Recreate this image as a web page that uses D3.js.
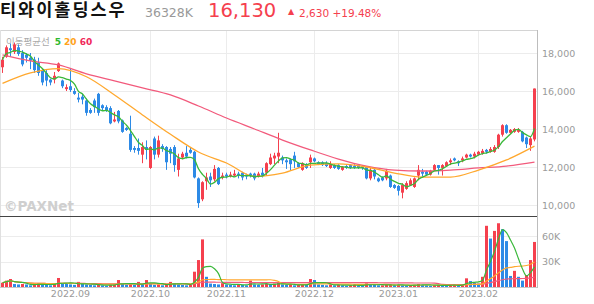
<!DOCTYPE html>
<html>
<head>
<meta charset="utf-8">
<script src="https://cdn.jsdelivr.net/npm/d3@7"></script>
<style>
body { margin: 0; background: #fff; }
svg { display: block; font-family: "DejaVu Sans", sans-serif; }
</style>
</head>
<body>
<div id="chart"></div>
<script>

// trading calendar (KRX holidays inside the range)
var firstDay = "2022-08-08";
var lastDay  = "2023-02-21";
var holidays = ["2022-08-15","2022-09-09","2022-09-12","2022-10-03","2022-10-10","2022-12-30","2023-01-23","2023-01-24"];

var open  = [17250,17800,18250,18050,18300,18000,17900,17750,17650,17500,17100,16950,16600,16600,17050,16550,16100,16250,16000,15650,
             15700,15500,15000,15500,15850,15250,15150,15100,14400,14950,14450,14050,13750,13000,13000,12650,13050,11950,13500,12650,
             13100,13050,12950,13050,11850,12500,12750,12900,12800,11400,10300,11250,11500,11350,11950,11450,11600,11500,11550,11650,
             11700,11600,11650,11650,11500,11700,11700,12150,12450,12550,12500,12350,12400,12600,12200,11850,12150,12250,12450,12250,
             12250,12200,11950,12100,12100,11850,12050,12100,12050,12100,12050,12000,11400,11850,11400,11450,11400,11550,11050,11000,
             10650,10850,11050,10950,11550,11750,11750,11600,11850,12100,11950,12050,12250,12450,12300,12350,12500,12650,12550,12650,
             12700,12900,12800,12800,13050,13700,14200,13800,13850,13850,13850,13550,13150,13450];
var high  = [17800,18400,18500,18550,18450,18150,18000,18000,17800,17750,17150,17100,16650,17000,17500,16600,16350,17200,16150,15900,
             15850,15600,15100,15600,15900,15300,15250,15200,14900,15000,14500,14100,14700,13100,13500,13300,13400,13100,13600,13650,
             13200,13100,13050,13150,12700,12800,13100,13000,12850,11450,11250,11700,11700,12100,12000,11700,11700,11750,11850,11750,
             11750,11650,11700,11700,11750,11950,12250,12700,12750,13800,12600,12450,12450,12800,12250,12250,12200,12650,12500,12300,
             12300,12300,12300,12150,12150,12050,12100,12150,12150,12150,12100,12050,11950,11900,11450,11500,11900,11600,11100,11050,
             11150,11250,11400,11450,12100,11900,11800,11850,12150,12100,12150,12300,12450,12500,12350,12550,12700,12700,12800,12850,
             12950,12950,13050,13150,13750,14250,14250,14000,14050,14050,13900,13600,13600,16130];
var low   = [16950,17750,17800,17950,17850,17300,17500,17150,16950,16800,16300,16250,16300,16400,17000,16150,16000,15950,15800,15400,
             15300,14700,14800,14850,14700,15000,14900,14250,14350,14300,13800,13900,12800,12750,12650,12200,12400,11900,12400,12500,
             12800,11850,12200,11750,11500,12400,12450,12700,11400,9850,10200,10800,10950,11250,11050,11350,11400,11450,11500,11400,
             11300,11350,11450,11300,11450,11450,11550,12100,12150,12200,12150,11900,11800,11950,11950,11800,11900,11950,12250,12100,
             12050,12000,11900,11900,11850,11800,11900,11900,11900,11900,11850,11350,11300,11350,11200,11250,11300,10900,10850,10500,
             10350,10800,11000,10900,11300,11500,11550,11550,11800,11600,11550,12000,12100,12300,12050,12250,12450,12500,12450,12600,
             12650,12700,12750,12750,12950,13600,13750,13750,13800,13800,13300,13000,12850,13350];
var close = [17650,18300,18150,18450,17950,17400,17750,17600,17100,16950,16450,16550,16450,16800,17450,16250,16200,16050,15850,15550,
             15550,14850,14850,15150,14850,15100,14950,14300,14500,14400,13850,13950,12900,12900,12850,13050,12900,13050,12650,13400,
             12950,12250,12700,12100,12450,12700,12550,12750,11450,10100,11200,11450,11300,11900,11100,11550,11500,11600,11650,11550,
             11450,11500,11550,11400,11650,11550,12200,12500,12600,12750,12350,12250,12150,12300,12000,12200,11950,12500,12300,12150,
             12100,12050,12150,11950,11900,12000,11950,11950,11950,11950,11950,11400,11850,11500,11250,11300,11800,10950,10900,10750,
             11050,11150,11300,11400,11850,11650,11600,11800,12100,11950,12100,12250,12350,12350,12200,12450,12650,12550,12700,12800,
             12850,12800,12950,13050,13700,14200,13800,13950,14000,13950,13350,13200,13500,16130];
// volume, thousands of shares
var volume = [5,7.5,9.4,3.5,3,3.5,3,2,2.5,4.7,3,2.5,2,3,10.6,4,3.5,3,2.5,6,
              3.5,3,2.5,2,2.5,2,1.5,2.5,3,8.2,3.5,2.5,3,2.5,6,3.5,8.2,4,2.5,3,
              2,3,6,4.7,3,2.5,2,2.5,18,31.7,56,12,4,3.5,3,4.5,3,2.5,2,3,
              2.5,2,7.5,3,2.5,3,3.5,3,4,5,3,2.5,3,2,2.5,3,2.5,9.4,8.2,3,
              2.5,2,3,2,2.5,2,1.5,2,2.5,2,1.5,4.3,3,2.5,2,2,2.5,3,2,2.5,
              2,1.5,2,2.5,3.5,2.5,2,1.5,2,2.5,2,1.5,2,2.5,2,3.5,10.2,7,5,4,
              12,72,57,66,75,68,54,13,19,12,7.5,14,31.7,53];

// 20 / 60 day moving averages every 7th session
var maDates = ["2022-08-08","2022-08-18","2022-08-29","2022-09-07","2022-09-20","2022-09-29","2022-10-12","2022-10-21","2022-11-01","2022-11-10",
               "2022-11-21","2022-11-30","2022-12-09","2022-12-20","2022-12-29","2023-01-10","2023-01-19","2023-02-01","2023-02-10","2023-02-21"];
var ma20 = [16400,16950,17180,16750,15790,14740,13720,12790,12210,11500,11680,12100,12160,12000,11680,11470,11470,11840,12370,13100];
var ma60 = [17900,17580,17370,16900,16530,16160,15790,15210,14580,14000,13420,12900,12420,12050,11840,11790,11840,11950,12050,12260];

var priceTicks  = [10000,12000,14000,16000,18000];
var volumeTicks = [30,60];

var red  = "#f5404e";
var blue = "#2d8ae6";
var maColors = {5:"#3ab83a", 20:"#ffa82e", 60:"#f25a7c"};

var fmt   = d3.timeFormat("%Y-%m-%d");
var parse = d3.timeParse("%Y-%m-%d");

var dates = d3.timeDay.range(parse(firstDay), d3.timeDay.offset(parse(lastDay), 1))
    .filter(function(d){ return d.getDay() > 0 && d.getDay() < 6 && holidays.indexOf(fmt(d)) < 0; })
    .map(fmt);

var bars = dates.map(function(d, i){
    return {date:d, o:open[i], h:high[i], l:low[i], c:close[i], v:volume[i], vUp: i == 0 || volume[i] >= volume[i-1]};
});

var monthStarts = dates.filter(function(d, i){ return i > 0 && d.slice(5,7) != dates[i-1].slice(5,7); });

function rolling(values, n) {
    return values.map(function(v, i){ return d3.mean(values.slice(Math.max(0, i-n+1), i+1)); });
}

var svg = d3.select("#chart").append("svg").attr("width", 594).attr("height", 304);

var x  = d3.scaleBand().domain(dates).range([0.5, 536.5]).paddingInner(0.25).paddingOuter(0.125);
var y  = d3.scaleLinear().domain([10000,18000]).range([205,53]);
var yv = d3.scaleLinear().domain([0,60]).range([287,236]);

function cx(d) { return x(d) + x.bandwidth()/2; }

// header
var head = svg.append("g");
head.append("text").attr("x",0).attr("y",16).style("font-family","'Noto Sans CJK KR'").style("font-size","17.5px")
    .style("font-weight","700").style("letter-spacing","2px").attr("fill","#111").text("티와이홀딩스우");
head.append("text").attr("x",145).attr("y",16.5).style("font-size","12.5px").attr("fill","#999").text("36328K");
head.append("text").attr("x",208).attr("y",17).style("font-size","19.5px").attr("fill",red).text("16,130");
head.append("text").attr("x",288).attr("y",14).style("font-size","8px").attr("fill",red).text("▲");
head.append("text").attr("x",299).attr("y",16.5).style("font-size","10.5px").attr("fill",red).text("2,630 +19.48%");

// grid
var grid = svg.append("g").attr("stroke","#ececec").attr("stroke-width",1);
grid.selectAll(".hp").data(priceTicks).enter().append("line")
    .attr("x1",0).attr("x2",537).attr("y1",function(d){return Math.round(y(d))+0.5;}).attr("y2",function(d){return Math.round(y(d))+0.5;});
grid.selectAll(".hv").data(volumeTicks).enter().append("line")
    .attr("x1",0).attr("x2",537).attr("y1",function(d){return Math.round(yv(d))+0.5;}).attr("y2",function(d){return Math.round(yv(d))+0.5;});
grid.selectAll(".vm").data(monthStarts).enter().append("line")
    .attr("x1",function(d){return Math.floor(cx(d))+0.5;}).attr("x2",function(d){return Math.floor(cx(d))+0.5;})
    .attr("y1",30).attr("y2",287);

// frame
var frame = svg.append("g");
frame.append("line").attr("x1",0).attr("x2",537.5).attr("y1",30.5).attr("y2",30.5).attr("stroke","#d4d4d4");
frame.append("line").attr("x1",0.5).attr("x2",0.5).attr("y1",30).attr("y2",287).attr("stroke","#e0e0e0");
frame.append("line").attr("x1",0).attr("x2",537.5).attr("y1",216.5).attr("y2",216.5).attr("stroke","#444");
frame.append("line").attr("x1",0).attr("x2",537.5).attr("y1",287.5).attr("y2",287.5).attr("stroke","#c8c8c8");
frame.append("line").attr("x1",537.5).attr("x2",537.5).attr("y1",30).attr("y2",288).attr("stroke","#bdbdbd");

// legend + watermark
var leg = svg.append("text").attr("x",6).attr("y",45).style("font-size","9.5px");
leg.append("tspan").style("font-family","'Noto Sans CJK KR'").attr("fill","#aaa").text("이동평균선 ");
leg.append("tspan").attr("dx",3).attr("fill","#2eb82e").style("font-weight","700").style("font-size","9px").text("5");
leg.append("tspan").attr("dx",3).attr("fill","#ffa31a").style("font-weight","700").style("font-size","9px").text("20");
leg.append("tspan").attr("dx",3).attr("fill","#f0285a").style("font-weight","700").style("font-size","9px").text("60");
svg.append("text").attr("x",4).attr("y",211).style("font-size","13.5px").style("font-weight","700")
    .attr("fill","#cfcfcf").text("©PAXNet");

svg.append("clipPath").attr("id","clip").append("rect").attr("x",0).attr("y",31).attr("width",537).attr("height",185);
svg.append("clipPath").attr("id","clipv").append("rect").attr("x",0).attr("y",217).attr("width",537).attr("height",70);

// candles
var candles = svg.append("g").attr("clip-path","url(#clip)");
candles.selectAll("line").data(bars).enter().append("line")
    .attr("x1",function(d){return cx(d.date);}).attr("x2",function(d){return cx(d.date);})
    .attr("y1",function(d){return y(d.h);}).attr("y2",function(d){return y(d.l);})
    .attr("stroke",function(d){return d.c >= d.o ? red : blue;});
candles.selectAll("rect").data(bars).enter().append("rect")
    .attr("x",function(d){return x(d.date);}).attr("width",x.bandwidth())
    .attr("y",function(d){return y(Math.max(d.o,d.c));})
    .attr("height",function(d){return Math.max(1, Math.abs(y(d.o)-y(d.c)));})
    .attr("fill",function(d){return d.c >= d.o ? red : blue;});

// price moving averages
var ma5 = rolling(close, 5);
var priceLine = d3.line().curve(d3.curveMonotoneX);
var mas = svg.append("g").attr("clip-path","url(#clip)").attr("fill","none").attr("stroke-width",1.3);
mas.append("path").attr("stroke",maColors[60])
    .attr("d", priceLine(maDates.map(function(d,i){return [cx(d), y(ma60[i])];})));
mas.append("path").attr("stroke",maColors[20])
    .attr("d", priceLine(maDates.map(function(d,i){return [cx(d), y(ma20[i])];})));
mas.append("path").attr("stroke",maColors[5])
    .attr("d", priceLine(dates.map(function(d,i){return [cx(d), y(ma5[i])];})));

// volume
var vol = svg.append("g").attr("clip-path","url(#clipv)");
vol.selectAll("rect").data(bars).enter().append("rect")
    .attr("x",function(d){return x(d.date);}).attr("width",x.bandwidth())
    .attr("y",function(d){return yv(d.v);}).attr("height",function(d){return 287 - yv(d.v);})
    .attr("fill",function(d){return d.vUp ? red : blue;});
[60,20,5].forEach(function(n){
    var m = rolling(volume, n);
    vol.append("path").attr("fill","none").attr("stroke",maColors[n]).attr("stroke-width",1.2)
        .attr("d", priceLine(dates.map(function(d,i){return [cx(d), yv(m[i])];})));
});

// axes
var axisText = function(g){ g.select(".domain").remove(); g.selectAll("text").attr("fill","#9a9a9a"); };
svg.append("g").attr("transform","translate(540,0)")
    .call(d3.axisRight(y).tickValues(priceTicks).tickSize(0).tickPadding(2).tickFormat(d3.format(",")))
    .call(axisText).selectAll("text").style("font-size","9.5px").style("font-family","'DejaVu Sans'");
svg.append("g").attr("transform","translate(540,0)")
    .call(d3.axisRight(yv).tickValues(volumeTicks).tickSize(0).tickPadding(2).tickFormat(function(d){return d+"K";}))
    .call(axisText).selectAll("text").style("font-size","9.5px").style("font-family","'DejaVu Sans'");
svg.append("g").attr("transform","translate(0,287)")
    .call(d3.axisBottom(x).tickValues(monthStarts).tickSize(0).tickPadding(3)
        .tickFormat(function(d){return d.slice(0,7).replace("-",".");}))
    .call(axisText).selectAll("text").style("font-size","9.5px").style("font-family","'DejaVu Sans'");

</script>
</body>
</html>
